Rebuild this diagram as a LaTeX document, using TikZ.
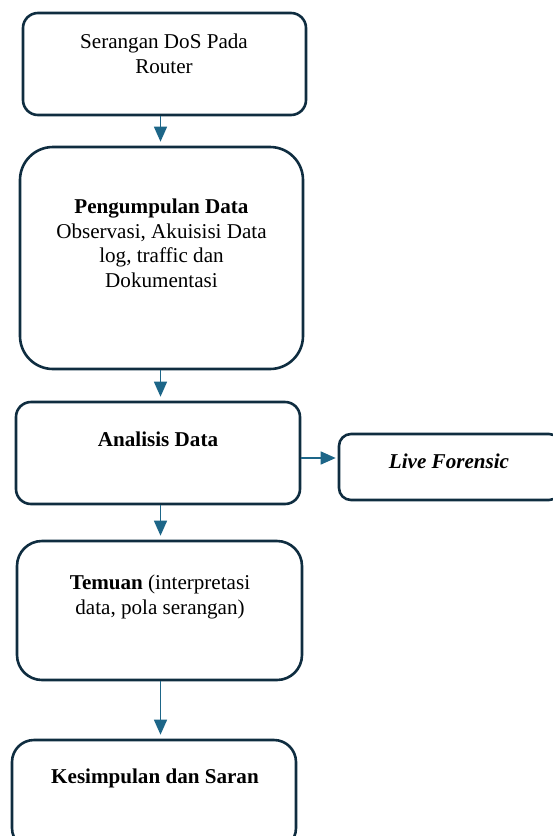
\documentclass[tikz,border=0pt]{standalone}
\usepackage{fontspec}
\setmainfont{Liberation Serif}
\usetikzlibrary{arrows.meta}
\definecolor{boxline}{HTML}{0F2D40}
\definecolor{arrowblue}{HTML}{1D6688}
\begin{document}
\begin{tikzpicture}[x=1pt,y=-1pt,
  box/.style={draw=boxline,line width=2.6pt,rectangle,inner sep=0pt},
  txt/.style={font=\fontsize{21.1}{24.5}\selectfont,align=center,anchor=base,inner sep=0pt},
  arr/.style={draw=arrowblue,line width=1.4pt,-{Triangle[width=13pt,length=15pt]},shorten >=4pt}]
  \useasboundingbox (0,0) rectangle (553,836);
  \clip (0,0) rectangle (553,836);
  % process boxes
  \node[box,rounded corners=15pt,minimum width=283pt,minimum height=102pt] (b1) at (164.5,64) {};
  \node[box,rounded corners=33pt,minimum width=283pt,minimum height=222pt] (b2) at (161.5,258) {};
  \node[box,rounded corners=15pt,minimum width=284pt,minimum height=102pt] (b3) at (158,453) {};
  \node[box,rounded corners=12pt,minimum width=222pt,minimum height=66pt] (b4) at (450,467) {};
  \node[box,rounded corners=25pt,minimum width=285pt,minimum height=139pt] (b5) at (159.5,610.5) {};
  \node[box,rounded corners=22pt,minimum width=284pt,minimum height=110pt] (b6) at (154,795) {};
  % box texts (anchored at the baseline of their last line)
  \node[txt] (t1) at (164,73) {Serangan DoS Pada\\Router};
  \node[txt] (t2) at (161.5,287) {\textbf{Pengumpulan Data}\\Observasi, Akuisisi Data\\log, traffic dan\\Dokumentasi};
  \node[txt] (t3) at (158,446) {\textbf{Analisis Data}};
  \node[txt] (t4) at (449,468) {\textbf{\textit{Live Forensic}}};
  \node[txt] (t5) at (160,614) {\textbf{Temuan} (interpretasi\\data, pola serangan)};
  \node[txt] (t6) at (155,783) {\textbf{Kesimpulan dan Saran}};
  % connectors
  \coordinate (ax) at (160.5,0);
  \draw[arr] (b1.south -| ax) -- (b2.north -| ax);
  \draw[arr] (b2.south -| ax) -- (b3.north -| ax);
  \draw[arr] (b3.south -| ax) -- (b5.north -| ax);
  \draw[arr] (b5.south -| ax) -- (b6.north -| ax);
  \coordinate (ay) at (0,458);
  \draw[arr,shorten >=2pt] (b3.east |- ay) -- (b4.west |- ay);
\end{tikzpicture}
\end{document}
